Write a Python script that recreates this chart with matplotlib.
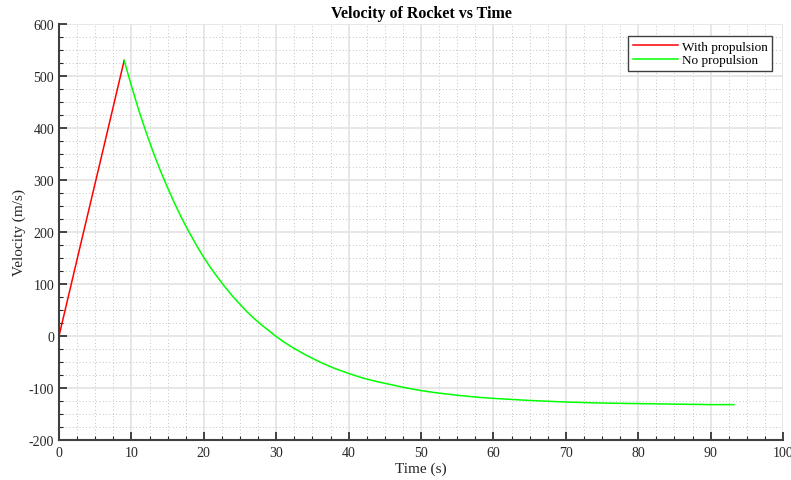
import matplotlib
matplotlib.use("Agg")
import matplotlib.pyplot as plt
from matplotlib.ticker import MultipleLocator

# Data
t_prop = [0, 3, 6, 9]
v_prop = [0, 177, 353, 530]

t_free = [9, 10, 11, 12, 13, 14, 15, 16, 17, 18, 19, 20, 21, 22, 23, 24, 25, 26,
          27, 28, 29, 30, 31, 32, 33, 34, 35, 36, 38, 40, 42, 44, 46, 48, 50,
          52, 55, 58, 60, 65, 70, 75, 80, 85, 90, 93.2]
v_free = [530, 481, 435, 393, 354, 318, 285, 254, 225, 199, 174, 151, 130, 111,
          93, 76, 61, 46, 33, 21, 10, -1, -11, -20, -28, -36, -43, -50, -62, -72,
          -81, -88, -94, -100, -105, -109, -114, -118, -120, -124, -127, -129,
          -130, -131, -132, -132]

plt.rcParams['font.family'] = ['Liberation Serif', 'DejaVu Serif']
plt.rcParams['axes.unicode_minus'] = False

fig = plt.figure(figsize=(7.91, 4.81), dpi=100)
ax = fig.add_axes([0.0746, 0.0832, 0.9153, 0.8648])

ax.plot(t_prop, v_prop, color='#ff0000', lw=1.1, label='With propulsion')
ax.plot(t_free, v_free, color='#00ff00', lw=1.1, label='No propulsion')

ax.set_xlim(0, 100)
ax.set_ylim(-200, 600)
ax.xaxis.set_major_locator(MultipleLocator(10))
ax.xaxis.set_minor_locator(MultipleLocator(2.5))
ax.yaxis.set_major_locator(MultipleLocator(100))
ax.yaxis.set_minor_locator(MultipleLocator(25))

ax.grid(which='major', color='#e3e3e3', lw=1.2, ls='-')
ax.grid(which='minor', color='#b0b0b0', lw=0.6, ls=(0, (1, 3)))
ax.set_axisbelow(True)

for s in ['top', 'right']:
    ax.spines[s].set_visible(False)
for s in ['left', 'bottom']:
    ax.spines[s].set_color('#404040')
    ax.spines[s].set_linewidth(1.5)

ax.tick_params(which='major', direction='in', length=6, width=1.2, color='#262626',
               labelsize=10, labelcolor='#262626')
ax.tick_params(which='minor', direction='in', length=3, width=0.8, color='#262626')
ax.tick_params(axis='x', pad=4)

ax.set_title('Velocity of Rocket vs Time', fontsize=11.5, fontweight='bold', pad=5)
ax.set_xlabel('Time (s)', fontsize=11, color='#262626', labelpad=2)
ax.set_ylabel('Velocity (m/s)', fontsize=11, color='#262626')
ax.yaxis.set_label_coords(-0.046, 0.5)

leg = ax.legend(loc='upper right', fontsize=9.5, fancybox=False, framealpha=1,
                edgecolor='#404040', borderpad=0.35, handlelength=3.4,
                labelspacing=0.1, handletextpad=0.3, borderaxespad=0,
                bbox_to_anchor=(0.985, 0.971))
leg.get_frame().set_linewidth(1.0)

fig.savefig('out.png', dpi=100)
